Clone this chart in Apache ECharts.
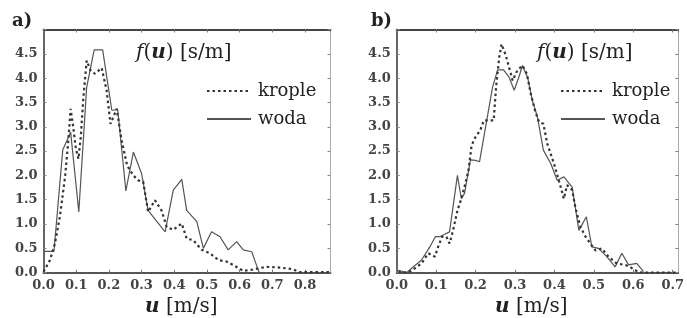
<!DOCTYPE html>
<html>
<head>
<meta charset="utf-8">
<script src="https://cdn.jsdelivr.net/npm/echarts@6/dist/echarts.min.js"></script>
<style>
  html, body { margin: 0; padding: 0; background: #fff; }
  #main { width: 687px; height: 318px; }
</style>
</head>
<body>
<div id="main"></div>
<script>
// a) u [m/s], f(u) [s/m]
var aKrople = [
  [0, 0.02], [0.02, 0.26], [0.035, 0.6], [0.05, 1.15], [0.066, 1.97], [0.076, 2.72],
  [0.083, 3.37], [0.091, 2.99], [0.099, 2.55], [0.107, 2.34], [0.114, 2.79], [0.122, 3.6],
  [0.132, 4.36], [0.144, 4.16], [0.157, 4.09], [0.178, 4.21], [0.193, 3.75], [0.205, 3.06],
  [0.224, 3.37], [0.239, 2.72], [0.256, 2.2], [0.275, 2.0], [0.289, 1.9], [0.305, 1.87],
  [0.32, 1.25], [0.341, 1.49], [0.361, 1.28], [0.377, 0.94], [0.397, 0.88], [0.423, 1.01],
  [0.438, 0.7], [0.458, 0.67], [0.484, 0.47], [0.509, 0.4], [0.535, 0.26], [0.56, 0.23],
  [0.58, 0.16], [0.611, 0.04], [0.637, 0.06], [0.664, 0.1], [0.683, 0.12], [0.713, 0.11],
  [0.744, 0.09], [0.764, 0.07], [0.784, 0.01], [0.876, 0.01]
];
var aWoda = [
  [0, 0.44], [0.032, 0.44], [0.059, 2.53], [0.083, 2.89], [0.108, 1.25], [0.132, 3.81],
  [0.155, 4.58], [0.181, 4.58], [0.209, 3.34], [0.227, 3.35], [0.252, 1.68], [0.275, 2.48],
  [0.3, 2.04], [0.32, 1.28], [0.372, 0.84], [0.397, 1.7], [0.423, 1.92], [0.438, 1.28],
  [0.469, 1.05], [0.489, 0.5], [0.514, 0.84], [0.54, 0.74], [0.565, 0.47], [0.591, 0.64],
  [0.611, 0.47], [0.637, 0.43], [0.654, 0.11], [0.66, 0]
];
// b)
var bKrople = [
  [0.004, 0.02], [0.029, 0], [0.046, 0.09], [0.063, 0.19], [0.08, 0.4], [0.097, 0.33],
  [0.105, 0.53], [0.115, 0.74], [0.126, 0.74], [0.134, 0.6], [0.143, 0.87], [0.154, 1.28],
  [0.164, 1.52], [0.174, 1.83], [0.182, 2.1], [0.19, 2.62], [0.2, 2.79], [0.212, 2.93],
  [0.221, 3.13], [0.246, 3.13], [0.252, 3.81], [0.26, 4.43], [0.266, 4.7], [0.277, 4.46],
  [0.286, 4.19], [0.294, 3.95], [0.306, 4.16], [0.319, 4.26], [0.33, 4.09], [0.34, 3.68],
  [0.352, 3.3], [0.361, 3.1], [0.372, 3.06], [0.382, 2.65], [0.399, 2.24], [0.416, 1.76],
  [0.424, 1.52], [0.432, 1.8], [0.445, 1.7], [0.453, 1.35], [0.466, 0.94], [0.479, 0.74],
  [0.491, 0.6], [0.504, 0.46], [0.52, 0.5], [0.537, 0.33], [0.558, 0.19], [0.579, 0.16],
  [0.592, 0.12], [0.604, 0.05], [0.622, 0], [0.714, 0]
];
var bWoda = [
  [0.004, 0.05], [0.025, 0], [0.038, 0.09], [0.063, 0.26], [0.084, 0.53], [0.098, 0.74],
  [0.109, 0.74], [0.122, 0.79], [0.134, 0.84], [0.154, 2.0], [0.164, 1.52], [0.172, 1.63],
  [0.187, 2.32], [0.2, 2.31], [0.21, 2.28], [0.243, 3.81], [0.256, 4.17], [0.271, 4.17],
  [0.285, 4.02], [0.298, 3.75], [0.311, 4.05], [0.319, 4.26], [0.332, 4.02], [0.344, 3.54],
  [0.357, 3.2], [0.372, 2.52], [0.391, 2.24], [0.407, 1.9], [0.424, 1.97], [0.445, 1.76],
  [0.462, 0.87], [0.481, 1.15], [0.495, 0.53], [0.512, 0.5], [0.533, 0.33], [0.554, 0.12],
  [0.571, 0.4], [0.588, 0.16], [0.609, 0.19], [0.626, 0.02]
];
var seriesNames = ['krople', 'woda'];
var panelLabels = ['a)', 'b)'];

var font = 'DejaVu Serif';
var ink = '#222';
var clear = 'rgba(0,0,0,0)';

function tenth (v) {
  return Math.abs(v * 10 - Math.round(v * 10)) < 1e-6 ? v.toFixed(1) : '';
}
function half (v) {
  return v < 4.9 ? v.toFixed(1) : '';
}

function xAx (grid, max, bottom) {
  return {
    type: 'value', gridIndex: grid, min: 0, max: max, interval: 0.1,
    position: bottom ? 'bottom' : 'top',
    axisLine: { show: true, onZero: false, lineStyle: { color: bottom ? '#555' : '#444', width: 2 } },
    axisTick: { show: true, inside: true, length: 3, lineStyle: { color: '#777' } },
    axisLabel: { show: bottom, formatter: tenth, margin: 6, showMaxLabel: false,
      fontFamily: font, fontSize: 13, fontWeight: 'bold', color: '#444' },
    splitLine: { show: false }
  };
}
function yAx (grid, left) {
  return {
    type: 'value', gridIndex: grid, min: 0, max: 5, interval: 0.5,
    position: left ? 'left' : 'right',
    axisLine: { show: true, onZero: false, lineStyle: { color: left ? '#666' : '#aaa', width: left ? 2 : 1 } },
    axisTick: { show: true, inside: true, length: 3, lineStyle: { color: '#888' } },
    axisLabel: { show: left, formatter: half, margin: 6,
      fontFamily: font, fontSize: 13, fontWeight: 'bold', color: '#444' },
    splitLine: { show: false }
  };
}

function dotted (data, x, y) {
  return { name: seriesNames[0], type: 'line', xAxisIndex: x, yAxisIndex: y,
    data: data, symbol: 'none', z: 3,
    itemStyle: { color: clear, borderWidth: 0 },
    lineStyle: { color: '#333', width: 2.2, type: [2.5, 3] } };
}
function solid (data, x, y) {
  return { name: seriesNames[1], type: 'line', xAxisIndex: x, yAxisIndex: y,
    data: data, symbol: 'none', z: 2,
    itemStyle: { color: clear, borderWidth: 0 },
    lineStyle: { color: '#555', width: 1.2 } };
}

var rich = {
  i: { fontFamily: font, fontStyle: 'italic', fontSize: 20, color: ink },
  bi: { fontFamily: font, fontStyle: 'italic', fontWeight: 'bold', fontSize: 20, color: ink },
  n: { fontFamily: font, fontSize: 20, color: ink }
};
function txt (text, left, top, bold) {
  return { text: text, left: left, top: top, padding: 0,
    textStyle: { fontFamily: font, fontSize: bold ? 18 : 20, fontWeight: bold ? 'bold' : 'normal',
      color: ink, rich: rich } };
}

function legend (left) {
  return { data: seriesNames, orient: 'vertical', left: left, top: 82, padding: 0,
    itemWidth: 44, itemHeight: 14, itemGap: 10,
    itemStyle: { color: clear, borderWidth: 0 },
    textStyle: { fontFamily: font, fontSize: 18, color: ink, padding: [0, 0, 0, 2] } };
}

var chart = echarts.init(document.getElementById('main'));
chart.setOption({
  animation: false,
  backgroundColor: '#fff',
  grid: [
    { left: 43.5, top: 29.5, width: 287, height: 243.2 },
    { left: 396.7, top: 29.5, width: 283.3, height: 243.2 }
  ],
  xAxis: [xAx(0, 0.878, true), xAx(0, 0.878, false), xAx(1, 0.714, true), xAx(1, 0.714, false)],
  yAxis: [yAx(0, true), yAx(0, false), yAx(1, true), yAx(1, false)],
  title: [
    txt(panelLabels[0], 12, 12, true),
    txt(panelLabels[1], 371, 12, true),
    txt('{i|f}{n|(}{bi|u}{n|) [s/m]}', 136, 43),
    txt('{i|f}{n|(}{bi|u}{n|) [s/m]}', 537, 43),
    txt('{bi|u}{n| [m/s]}', 145, 297),
    txt('{bi|u}{n| [m/s]}', 495, 297)
  ],
  legend: [legend(206), legend(560)],
  series: [
    solid(aWoda, 0, 0), dotted(aKrople, 0, 0),
    solid(bWoda, 2, 2), dotted(bKrople, 2, 2)
  ]
});
</script>
</body>
</html>
